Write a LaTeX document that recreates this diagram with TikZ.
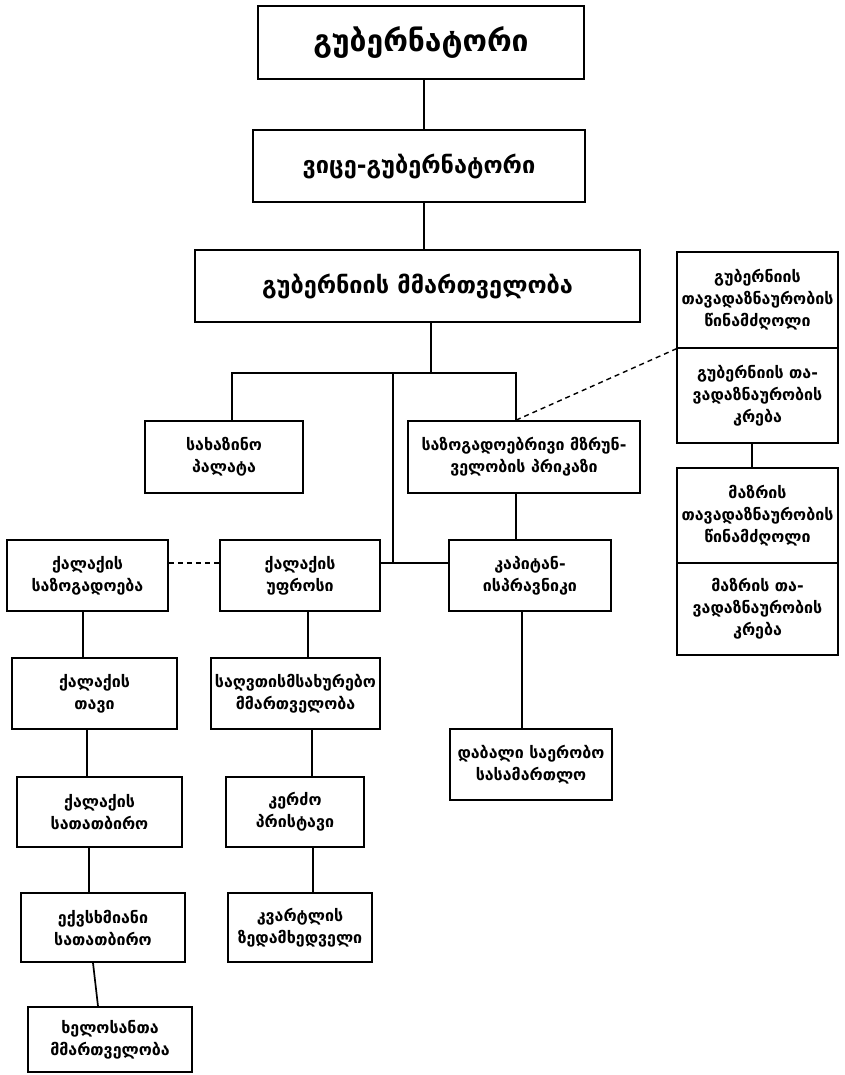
\documentclass[tikz,border=0pt]{standalone}
\usepackage{fontspec}
\setmainfont{DejaVu Sans}
\newfontfamily\gfont{DejaVu Sans Bold}
\tikzset{
  box/.style={draw, line width=1.7pt, inner sep=0pt, align=center, fill=white,
    font=\gfont\fontsize{16}{22}\selectfont},
  bigbox/.style={box, font=\gfont\fontsize{23.5}{27}\selectfont},
  hugebox/.style={box, font=\gfont\fontsize{30}{33}\selectfont},
  conn/.style={line width=1.7pt},
  dconn/.style={line width=1.4pt, dash pattern=on 5pt off 4pt}
}
\begin{document}
\begin{tikzpicture}[x=1pt,y=-1pt]
\useasboundingbox (0,0) rectangle (844,1075);
\fill[white] (0,0) rectangle (844,1075);

% nodes
\node[hugebox, minimum width=326pt, minimum height=73pt] (b1) at (421,42.5) {გუბერნატორი};
\node[bigbox, minimum width=332pt, minimum height=72pt] (b2) at (419,166) {ვიცე-გუბერნატორი};
\node[bigbox, minimum width=445pt, minimum height=72pt] (b3) at (417.5,286) {გუბერნიის მმართველობა};

\node[box, minimum width=161pt, minimum height=96pt] (a1) at (757.5,300) {გუბერნიის\\თავადაზნაურობის\\წინამძღოლი};
\node[box, minimum width=161pt, minimum height=95pt] (a2) at (757.5,395.5) {გუბერნიის თა-\\ვადაზნაურობის\\კრება};
\node[box, minimum width=161pt, minimum height=95pt] (c1) at (757.5,515.5) {მაზრის\\თავადაზნაურობის\\წინამძღოლი};
\node[box, minimum width=161pt, minimum height=92pt] (c2) at (757.5,609) {მაზრის თა-\\ვადაზნაურობის\\კრება};

\node[box, minimum width=158pt, minimum height=72pt] (b8) at (224,457) {სახაზინო\\პალატა};
\node[box, minimum width=232pt, minimum height=72pt] (b9) at (524,457) {საზოგადოებრივი მზრუნ-\\ველობის პრიკაზი};

\node[box, minimum width=161pt, minimum height=71pt] (b10) at (87.5,575.5) {ქალაქის\\საზოგადოება};
\node[box, minimum width=160pt, minimum height=71pt] (b11) at (300,575.5) {ქალაქის\\უფროსი};
\node[box, minimum width=162pt, minimum height=71pt] (b12) at (530,575.5) {კაპიტან-\\ისპრავნიკი};

\node[box, minimum width=165pt, minimum height=71pt] (b13) at (94.5,693.5) {ქალაქის\\თავი};
\node[box, minimum width=169pt, minimum height=71pt] (b14) at (295.5,693.5) {საღვთისმსახურებო\\მმართველობა};
\node[box, minimum width=162pt, minimum height=71pt] (b16) at (531,764.5) {დაბალი საერობო\\სასამართლო};

\node[box, minimum width=165pt, minimum height=70pt] (b17) at (99.5,812) {ქალაქის\\სათათბირო};
\node[box, minimum width=138pt, minimum height=70pt] (b15) at (295,812) {კერძო\\პრისტავი};

\node[box, minimum width=164pt, minimum height=69pt] (b18) at (103,927.5) {ექვსხმიანი\\სათათბირო};
\node[box, minimum width=144pt, minimum height=69pt] (b19) at (300,927.5) {კვარტლის\\ზედამხედველი};

\node[box, minimum width=164pt, minimum height=65pt] (b20) at (110,1039.5) {ხელოსანთა\\მმართველობა};

% helper coordinates
\coordinate (xt) at (424,0);
\coordinate (x3) at (431,0);
\coordinate (bus) at (0,373);
\coordinate (xl) at (232,0);
\coordinate (xm) at (393,0);
\coordinate (xr) at (516,0);
\coordinate (hy) at (0,563);
\coordinate (x12) at (522,0);
\coordinate (xc) at (752,0);
\coordinate (xa) at (83,0);
\coordinate (xb) at (87,0);
\coordinate (xd) at (89,0);
\coordinate (xe1) at (93,0);
\coordinate (xe2) at (98,0);
\coordinate (xu) at (308,0);
\coordinate (xv) at (312,0);
\coordinate (xw) at (313,0);

% connectors
\draw[conn] (b1.south -| xt) -- (b2.north -| xt);
\draw[conn] (b2.south -| xt) -- (b3.north -| xt);
\draw[conn] (b3.south -| x3) -- (x3 |- bus);
\draw[conn] (b8.north -| xl) -- (xl |- bus) -- (xr |- bus) -- (b9.north -| xr);
\draw[conn] (xm |- bus) -- (xm |- hy);
\draw[conn] (b11.east |- hy) -- (b12.west |- hy);
\draw[dconn] (b10.east |- hy) -- (b11.west |- hy);
\draw[dconn] (b9.north -| xr) -- (a1.south west);
\draw[conn] (b9.south -| xr) -- (b12.north -| xr);
\draw[conn] (b12.south -| x12) -- (b16.north -| x12);
\draw[conn] (a2.south -| xc) -- (c1.north -| xc);
\draw[conn] (b10.south -| xa) -- (b13.north -| xa);
\draw[conn] (b13.south -| xb) -- (b17.north -| xb);
\draw[conn] (b17.south -| xd) -- (b18.north -| xd);
\draw[conn] (b18.south -| xe1) -- (b20.north -| xe2);
\draw[conn] (b11.south -| xu) -- (b14.north -| xu);
\draw[conn] (b14.south -| xv) -- (b15.north -| xv);
\draw[conn] (b15.south -| xw) -- (b19.north -| xw);
\end{tikzpicture}
\end{document}
